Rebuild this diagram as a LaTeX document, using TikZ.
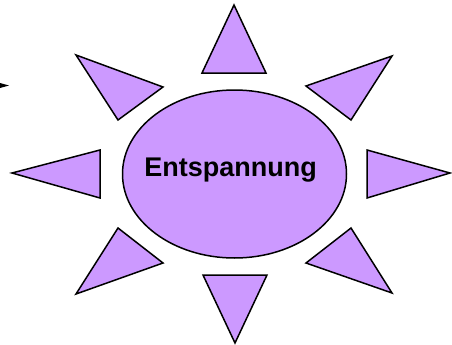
\documentclass[tikz,border=0pt]{standalone}
\usepackage{fontspec}
\setmainfont{Liberation Sans}
\usetikzlibrary{shapes.geometric}
\definecolor{lila}{RGB}{204,153,255}
\tikzset{strahl/.style={draw=black,fill=lila,line width=1.5pt,line join=miter}}

\begin{document}
\begin{tikzpicture}[x=1pt,y=-1pt]
\useasboundingbox (0,0) rectangle (452,345);
% kleine Pfeilspitze am Rand
\fill (0,83) -- (9,85.5) -- (0,88) -- cycle;
% Strahlen
\draw[strahl] (234,5) -- (266,73) -- (202,73) -- cycle;
\draw[strahl] (235,343) -- (203,275) -- (267,275) -- cycle;
\draw[strahl] (12,173) -- (100,150) -- (100,198) -- cycle;
\draw[strahl] (450,173) -- (367,150) -- (367,198) -- cycle;
\draw[strahl] (76,55) -- (163,87) -- (118,120) -- cycle;
\draw[strahl] (392,56) -- (306,86) -- (351,120) -- cycle;
\draw[strahl] (76,294) -- (118,228) -- (163,263) -- cycle;
\draw[strahl] (392,293) -- (351,228) -- (306,263) -- cycle;
% Mitte
\node[ellipse,draw=black,fill=lila,line width=1.5pt,
      minimum width=224pt,minimum height=168pt,inner sep=0pt] (mitte) at (234.5,174) {};
\node[font=\fontsize{27}{30}\selectfont\bfseries] (titel) at (230.5,170.5) {Entspannung};
\end{tikzpicture}
\end{document}
